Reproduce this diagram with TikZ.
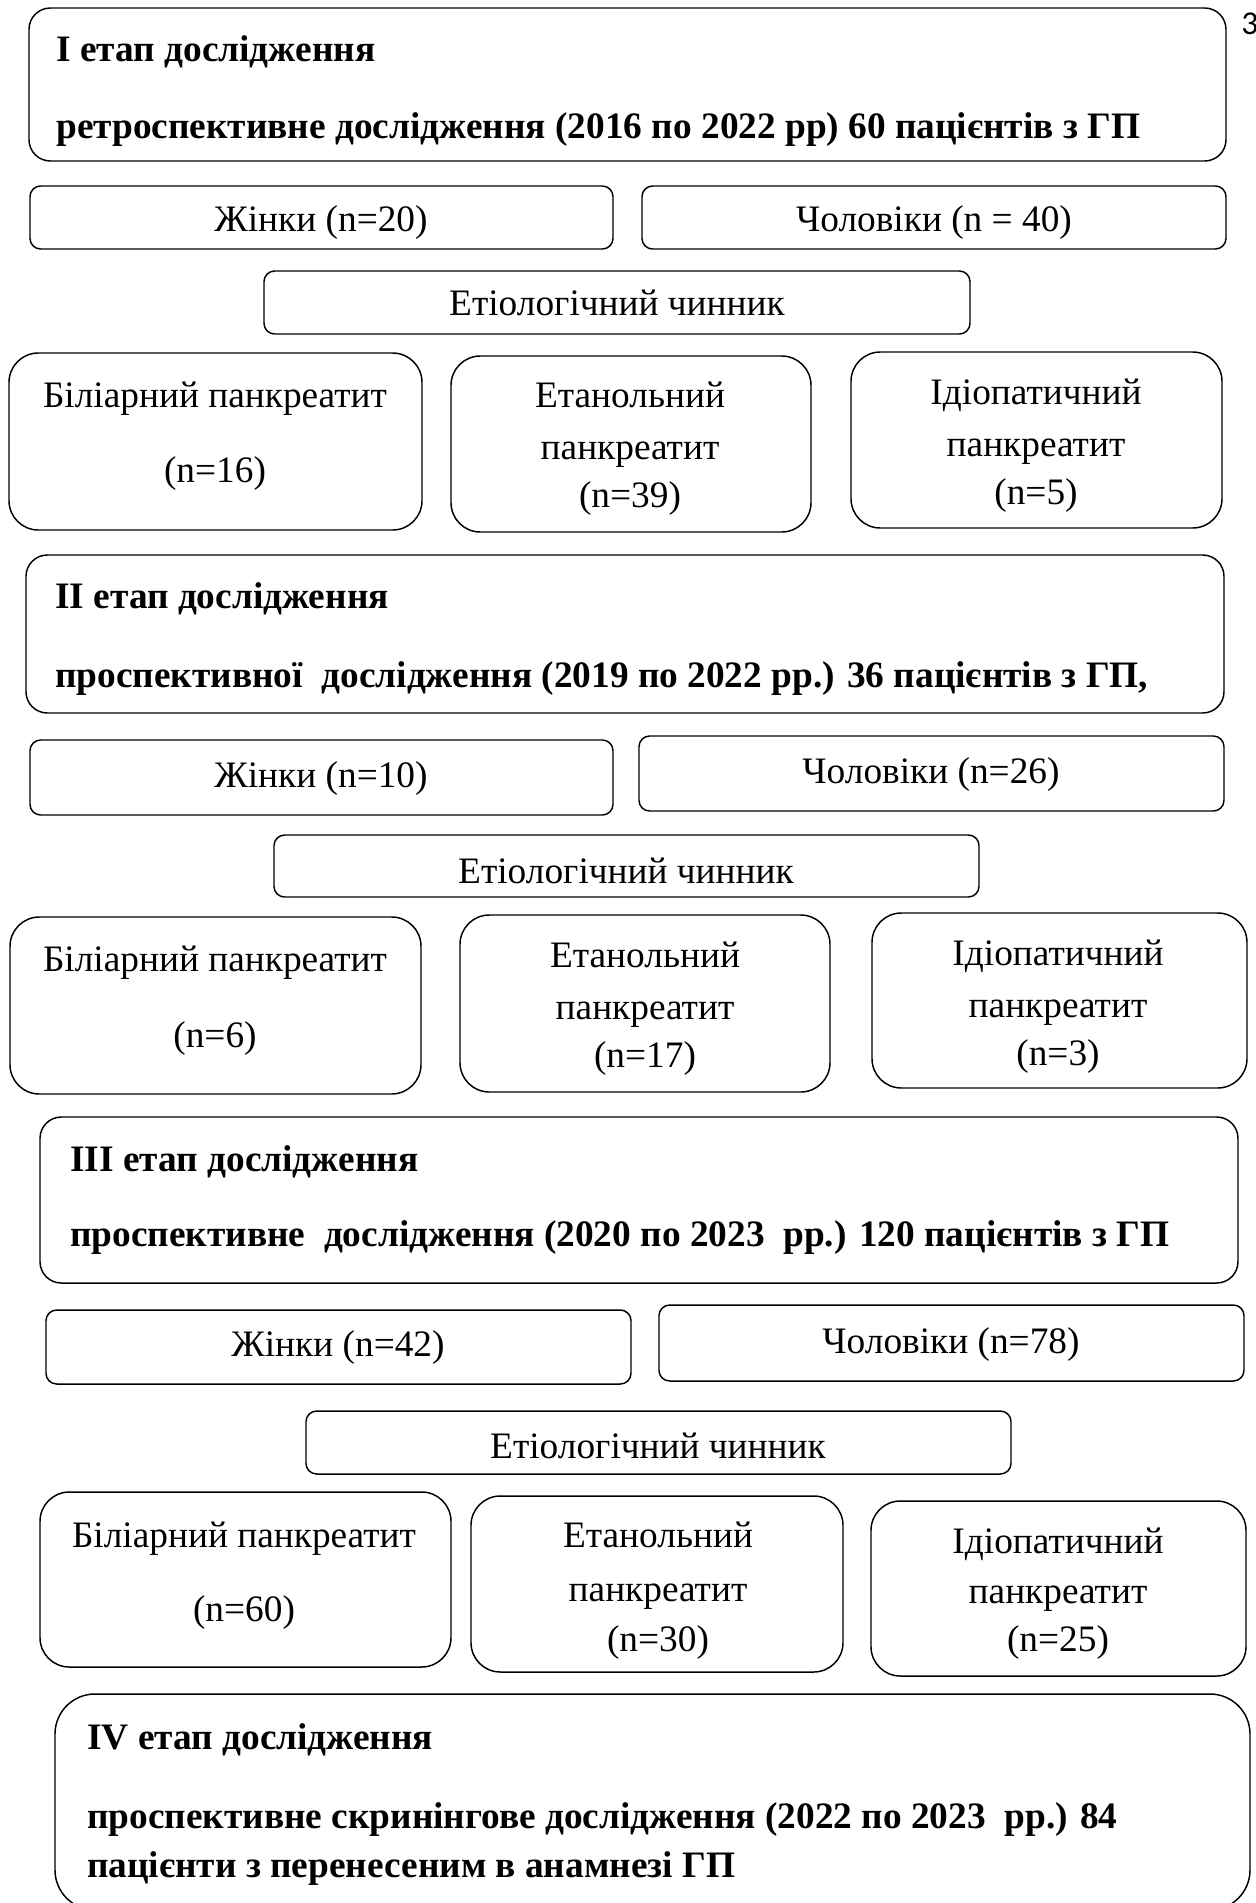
\documentclass[tikz,border=0pt]{standalone}
\usepackage{fontspec}
\setmainfont{Liberation Serif}
\newfontfamily\pagenumfont{Carlito}
\newcommand\bx[6]{%
  \node[box, rounded corners=#6, minimum width={(#4-#2)*0.75}, minimum height={(#5-#3)*0.75}]
    (#1) at ({(#2+#4)/2},{(#3+#5)/2}) {};}
\begin{document}
\begin{tikzpicture}[x=0.75pt,y=-0.75pt,
  box/.style={draw, line width=1.1pt, inner sep=0pt, outer sep=0pt},
  txt/.style={inner sep=0pt, font=\fontsize{28}{33}\selectfont, anchor=mid, yshift=-3.75pt},
  head/.style={inner sep=0pt, font=\fontsize{28}{33}\selectfont\bfseries, anchor=mid west, yshift=-3.75pt}]
\path[use as bounding box] (0,0) rectangle (1256,1903);
\begin{scope}
\clip (0,0) rectangle (1256,1903);
% ---------- Stage I
\bx{s1}{29}{8}{1226}{161}{16pt}
\node[head] (s1a) at (56,53) {I етап дослідження};
\node[head] (s1b) at (56,130) {ретроспективне дослідження (2016 по 2022 рр) 60 пацієнтів з ГП};
\bx{w1}{30}{186}{613}{249}{8pt}
\node[txt] (w1t) at (321,223) {Жінки (n=20)};
\bx{m1}{642}{186}{1226}{249}{8pt}
\node[txt] (m1t) at (934,223) {Чоловіки (n = 40)};
\bx{e1}{264}{271}{970}{334}{8pt}
\node[txt] (e1t) at (617,307) {Етіологічний чинник};
\bx{b1}{9}{353}{422}{530}{22pt}
\node[txt] (b1a) at (215,399) {Біліарний панкреатит};
\node[txt] (b1b) at (215,474) {(n=16)};
\bx{t1}{451}{356}{811}{532}{22pt}
\node[txt] (t1a) at (630,399) {Етанольний};
\node[txt] (t1b) at (630,451) {панкреатит};
\node[txt] (t1c) at (630,499) {(n=39)};
\bx{i1}{851}{352}{1222}{528}{22pt}
\node[txt] (i1a) at (1036,396) {Ідіопатичний};
\node[txt] (i1b) at (1036,448) {панкреатит};
\node[txt] (i1c) at (1036,496) {(n=5)};
% ---------- Stage II
\bx{s2}{26}{555}{1224}{713}{16pt}
\node[head] (s2a) at (55,600) {II етап дослідження};
\node[head] (s2b) at (55,679) {проспективної \ дослідження (2019 по 2022 рр.) 36 пацієнтів з ГП,};
\bx{w2}{30}{740}{613}{815}{8pt}
\node[txt] (w2t) at (321,779) {Жінки (n=10)};
\bx{m2}{639}{736}{1224}{811}{8pt}
\node[txt] (m2t) at (931,775) {Чоловіки (n=26)};
\bx{e2}{274}{835}{979}{897}{8pt}
\node[txt] (e2t) at (626,875) {Етіологічний чинник};
\bx{b2}{10}{917}{421}{1094}{22pt}
\node[txt] (b2a) at (215,963) {Біліарний панкреатит};
\node[txt] (b2b) at (215,1039) {(n=6)};
\bx{t2}{460}{915}{830}{1092}{22pt}
\node[txt] (t2a) at (645,959) {Етанольний};
\node[txt] (t2b) at (645,1011) {панкреатит};
\node[txt] (t2c) at (645,1059) {(n=17)};
\bx{i2}{872}{913}{1247}{1088}{22pt}
\node[txt] (i2a) at (1058,957) {Ідіопатичний};
\node[txt] (i2b) at (1058,1009) {панкреатит};
\node[txt] (i2c) at (1058,1057) {(n=3)};
% ---------- Stage III
\bx{s3}{40}{1117}{1238}{1283}{16pt}
\node[head] (s3a) at (70,1163) {III етап дослідження};
\node[head] (s3b) at (70,1238) {проспективне \ дослідження (2020 по 2023 \ рр.) 120 пацієнтів з ГП};
\bx{w3}{46}{1310}{631}{1384}{8pt}
\node[txt] (w3t) at (338,1348) {Жінки (n=42)};
\bx{m3}{659}{1305}{1244}{1381}{8pt}
\node[txt] (m3t) at (951,1345) {Чоловіки (n=78)};
\bx{e3}{306}{1411}{1011}{1474}{8pt}
\node[txt] (e3t) at (658,1450) {Етіологічний чинник};
\bx{b3}{40}{1492}{451}{1667}{22pt}
\node[txt] (b3a) at (244,1539) {Біліарний панкреатит};
\node[txt] (b3b) at (244,1613) {(n=60)};
\bx{t3}{471}{1496}{843}{1672}{22pt}
\node[txt] (t3a) at (658,1539) {Етанольний};
\node[txt] (t3b) at (658,1593) {панкреатит};
\node[txt] (t3c) at (658,1643) {(n=30)};
\bx{i3}{871}{1501}{1246}{1676}{22pt}
\node[txt] (i3a) at (1058,1545) {Ідіопатичний};
\node[txt] (i3b) at (1058,1595) {панкреатит};
\node[txt] (i3c) at (1058,1643) {(n=25)};
% ---------- Stage IV
\bx{s4}{55}{1694}{1250}{1910}{30pt}
\node[head] (s4a) at (87,1741) {IV етап дослідження};
\node[head] (s4b) at (87,1820) {проспективне скринінгове дослідження (2022 по 2023 \ рр.) 84};
\node[head] (s4c) at (87,1869) {пацієнти з перенесеним в анамнезі ГП};
% page number
\node[inner sep=0pt, anchor=base west, font=\pagenumfont\fontsize{25}{30}\selectfont] (pg) at (1241,34) {3};
\end{scope}
\end{tikzpicture}
\end{document}
